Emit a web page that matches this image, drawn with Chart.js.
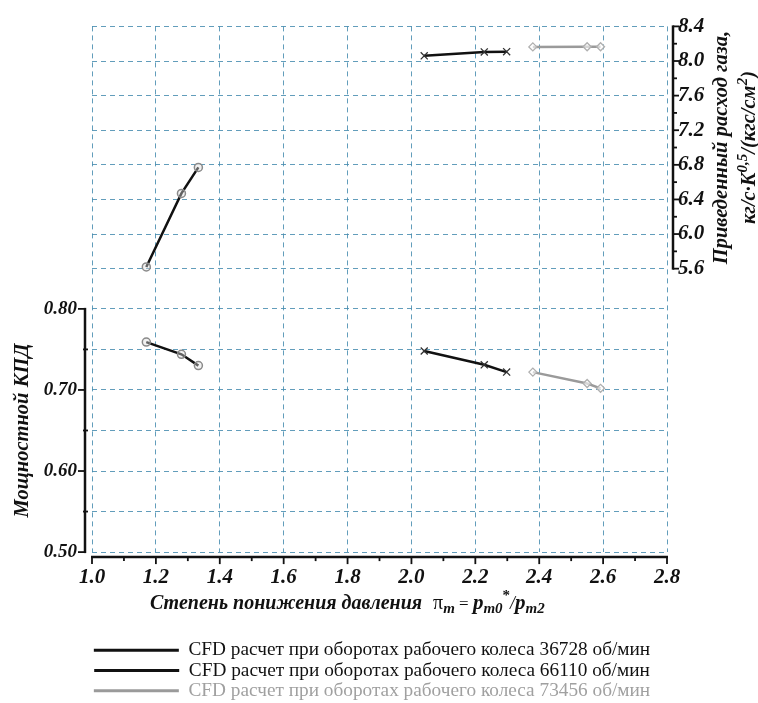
<!DOCTYPE html>
<html>
<head>
<meta charset="utf-8">
<script src="https://cdn.jsdelivr.net/npm/chart.js@4.4.1/dist/chart.umd.min.js"></script>
<style>
  html, body { margin: 0; padding: 0; background: #fff; }
  #wrap { width: 758px; height: 703px; position: relative; }
</style>
</head>
<body>
<div id="wrap"><canvas id="c" width="758" height="703"></canvas></div>
<script>
// ---- data ----
const seriesLabels = [
  'CFD расчет при оборотах рабочего колеса 36728 об/мин',
  'CFD расчет при оборотах рабочего колеса 66110 об/мин',
  'CFD расчет при оборотах рабочего колеса 73456 об/мин'
];
const pressureRatio36728 = [1.17, 1.28, 1.333];
const efficiency36728    = [0.759, 0.744, 0.730];
const flow36728          = [5.62, 6.47, 6.77];

const pressureRatio66110 = [2.04, 2.228, 2.298];
const efficiency66110    = [0.748, 0.731, 0.722];
const flow66110          = [8.06, 8.105, 8.108];

const pressureRatio73456 = [2.38, 2.55, 2.592];
const efficiency73456    = [0.722, 0.708, 0.702];
const flow73456          = [8.163, 8.165, 8.165];

const xTicks          = [1.0, 1.2, 1.4, 1.6, 1.8, 2.0, 2.2, 2.4, 2.6, 2.8];
const xMinorTicks     = [1.1, 1.3, 1.5, 1.7, 1.9, 2.1, 2.3, 2.5, 2.7];
const efficiencyTicks = [0.50, 0.55, 0.60, 0.65, 0.70, 0.75, 0.80];
const efficiencyLabelTicks = [0.50, 0.60, 0.70, 0.80];
const flowTicks       = [5.6, 6.0, 6.4, 6.8, 7.2, 7.6, 8.0, 8.4];
const flowMinorTicks  = [5.8, 6.2, 6.6, 7.0, 7.4, 7.8, 8.2];

const xTitleParts = ['Степень понижения давления', 'π', 'm', ' = ', 'p', 'm0', '*', '/', 'p', 'm2'];
const leftTitle = 'Мощностной КПД';
const rightTitle1 = 'Приведенный расход газа,';
const rightTitle2Parts = ['кг/с·K', '0,5', '/(кгс/см', '2', ')'];

// ---- styling ----
const SERIF = '"Liberation Serif", "Times New Roman", serif';
const gridColor = 'rgba(70,140,175,0.85)';
const c1 = '#111111', c2 = '#111111', c3 = '#9a9a9a';

const pts = (xs, ys) => xs.map((x, i) => ({x: x, y: ys[i]}));

const common = { borderWidth: 2.5, showLine: true, fill: false, tension: 0 };
const datasets = [
  Object.assign({}, common, { label: seriesLabels[0], data: pts(pressureRatio36728, flow36728), yAxisID: 'y2',
    borderColor: c1, pointStyle: 'circle', pointRadius: 4, pointBorderColor: '#8a8a8a', pointBackgroundColor: 'rgba(220,220,220,0.4)', pointBorderWidth: 1.5 }),
  Object.assign({}, common, { label: seriesLabels[0], data: pts(pressureRatio36728, efficiency36728), yAxisID: 'y',
    borderColor: c1, pointStyle: 'circle', pointRadius: 4, pointBorderColor: '#8a8a8a', pointBackgroundColor: 'rgba(220,220,220,0.4)', pointBorderWidth: 1.5 }),
  Object.assign({}, common, { label: seriesLabels[1], data: pts(pressureRatio66110, flow66110), yAxisID: 'y2',
    borderColor: c2, pointStyle: 'crossRot', pointRadius: 5, pointBorderColor: '#333', pointBorderWidth: 1.3 }),
  Object.assign({}, common, { label: seriesLabels[1], data: pts(pressureRatio66110, efficiency66110), yAxisID: 'y',
    borderColor: c2, pointStyle: 'crossRot', pointRadius: 5, pointBorderColor: '#333', pointBorderWidth: 1.3 }),
  Object.assign({}, common, { label: seriesLabels[2], data: pts(pressureRatio73456, flow73456), yAxisID: 'y2',
    borderColor: c3, pointStyle: 'rectRot', pointRadius: 4, pointBorderColor: '#b0b0b0', pointBackgroundColor: 'rgba(255,255,255,0.6)', pointBorderWidth: 1.3 }),
  Object.assign({}, common, { label: seriesLabels[2], data: pts(pressureRatio73456, efficiency73456), yAxisID: 'y',
    borderColor: c3, pointStyle: 'rectRot', pointRadius: 4, pointBorderColor: '#b0b0b0', pointBackgroundColor: 'rgba(255,255,255,0.6)', pointBorderWidth: 1.3 })
];

function font(size, bold, italic) {
  return (italic ? 'italic ' : '') + (bold ? 'bold ' : '') + size + 'px ' + SERIF;
}

// draws a list of {t, f, dy} segments starting at x (left), baseline y
function drawRich(ctx, segs, x, y) {
  let cx = x;
  segs.forEach(s => {
    ctx.font = s.f;
    ctx.fillText(s.t, cx, y + (s.dy || 0));
    cx += ctx.measureText(s.t).width + (s.gap || 0);
  });
  return cx;
}
function richWidth(ctx, segs) {
  let w = 0;
  segs.forEach(s => { ctx.font = s.f; w += ctx.measureText(s.t).width + (s.gap || 0); });
  return w;
}

const axesPlugin = {
  id: 'axesAndTitles',
  afterDraw(chart) {
    const ctx = chart.ctx;
    const ca = chart.chartArea;
    const sx = chart.scales.x, sy = chart.scales.y, sy2 = chart.scales.y2;
    ctx.save();
    ctx.strokeStyle = '#111';
    ctx.fillStyle = '#111';
    ctx.lineCap = 'butt';

    // left axis (efficiency) — offset outward
    const lx = ca.left - 7;
    const yTop = sy.getPixelForValue(efficiencyTicks[efficiencyTicks.length - 1]);
    const yBot = sy.getPixelForValue(efficiencyTicks[0]);
    ctx.lineWidth = 2.5;
    ctx.beginPath(); ctx.moveTo(lx, yTop - 1); ctx.lineTo(lx, yBot + 1); ctx.stroke();
    ctx.lineWidth = 1.8;
    efficiencyLabelTicks.forEach(v => {
      const py = sy.getPixelForValue(v);
      ctx.beginPath(); ctx.moveTo(lx, py); ctx.lineTo(lx - 7, py); ctx.stroke();
    });
    efficiencyTicks.filter(v => !efficiencyLabelTicks.includes(v)).forEach(v => {
      const py = sy.getPixelForValue(v);
      ctx.beginPath(); ctx.moveTo(lx - 2, py); ctx.lineTo(lx + 3, py); ctx.stroke();
    });

    // bottom axis
    const by = ca.bottom + 5;
    ctx.lineWidth = 2.5;
    ctx.beginPath(); ctx.moveTo(sx.getPixelForValue(xTicks[0]) - 1, by); ctx.lineTo(sx.getPixelForValue(xTicks[xTicks.length - 1]) + 1, by); ctx.stroke();
    ctx.lineWidth = 1.8;
    xTicks.forEach(v => {
      const px = sx.getPixelForValue(v);
      ctx.beginPath(); ctx.moveTo(px, by); ctx.lineTo(px, by + 7); ctx.stroke();
    });
    xMinorTicks.forEach(v => {
      const px = sx.getPixelForValue(v);
      ctx.beginPath(); ctx.moveTo(px, by); ctx.lineTo(px, by + 4); ctx.stroke();
    });

    // right axis (flow)
    const rx = ca.right + 6;
    const ry1 = sy2.getPixelForValue(flowTicks[flowTicks.length - 1]);
    const ry2 = sy2.getPixelForValue(flowTicks[0]);
    ctx.lineWidth = 2.5;
    ctx.beginPath(); ctx.moveTo(rx, ry1 - 1); ctx.lineTo(rx, ry2 + 1); ctx.stroke();
    ctx.lineWidth = 1.8;
    flowTicks.forEach(v => {
      const py = sy2.getPixelForValue(v);
      ctx.beginPath(); ctx.moveTo(rx, py); ctx.lineTo(rx + 6, py); ctx.stroke();
    });
    flowMinorTicks.forEach(v => {
      const py = sy2.getPixelForValue(v);
      ctx.beginPath(); ctx.moveTo(rx, py); ctx.lineTo(rx + 4, py); ctx.stroke();
    });

    // x title with subscripts
    ctx.fillStyle = '#111';
    ctx.textBaseline = 'alphabetic';
    ctx.textAlign = 'left';
    const ty = ca.bottom + 57;
    const xSegs = [
      {t: xTitleParts[0], f: font(20, true, true), gap: 11},
      {t: xTitleParts[1], f: font(20, false, false)},
      {t: xTitleParts[2], f: font(15, true, true), dy: 4},
      {t: xTitleParts[3], f: font(17, false, false)},
      {t: xTitleParts[4], f: font(21, true, true)},
      {t: xTitleParts[5], f: font(15, true, true), dy: 4},
      {t: xTitleParts[6], f: font(15, true, false), dy: -9},
      {t: xTitleParts[7], f: font(18, false, true)},
      {t: xTitleParts[8], f: font(21, true, true)},
      {t: xTitleParts[9], f: font(15, true, true), dy: 4}
    ];
    drawRich(ctx, xSegs, 150, ty);

    // left y title
    const midL = (yTop + yBot) / 2;
    ctx.save();
    ctx.translate(28, midL);
    ctx.rotate(-Math.PI / 2);
    ctx.font = font(20.5, true, true);
    ctx.textAlign = 'center';
    ctx.fillText(leftTitle, 0, 0);
    ctx.restore();

    // right y title (two lines)
    const midR = (ry1 + ry2) / 2;
    ctx.save();
    ctx.translate(727, midR);
    ctx.rotate(-Math.PI / 2);
    ctx.font = font(20.5, true, true);
    ctx.textAlign = 'center';
    ctx.fillText(rightTitle1, 0, 0);
    ctx.restore();

    ctx.save();
    ctx.translate(755, midR);
    ctx.rotate(-Math.PI / 2);
    ctx.textAlign = 'left';
    const rSegs = [
      {t: rightTitle2Parts[0], f: font(20.5, true, true)},
      {t: rightTitle2Parts[1], f: font(15, true, true), dy: -8},
      {t: rightTitle2Parts[2], f: font(20.5, true, true)},
      {t: rightTitle2Parts[3], f: font(15, true, true), dy: -8},
      {t: rightTitle2Parts[4], f: font(20.5, true, true)}
    ];
    const rw = richWidth(ctx, rSegs);
    drawRich(ctx, rSegs, -rw / 2, 0);
    ctx.restore();

    ctx.restore();
  }
};

const leftTickFont = { family: SERIF, size: 19, weight: 'bold', style: 'italic' };
const tickFont = { family: SERIF, size: 21, weight: 'bold', style: 'italic' };

new Chart(document.getElementById('c'), {
  type: 'scatter',
  data: { datasets: datasets },
  plugins: [axesPlugin],
  options: {
    responsive: false,
    animation: false,
    layout: { padding: { top: 17, bottom: -7.5, left: 0, right: 14 } },
    plugins: {
      tooltip: { enabled: false },
      legend: {
        display: true,
        position: 'bottom',
        align: 'center',
        labels: {
          boxWidth: 85,
          boxHeight: 3,
          padding: 1,
          font: { family: SERIF, size: 19.3 },
          color: '#111',
          generateLabels: () => [
            { text: seriesLabels[0], fillStyle: c1, strokeStyle: c1, lineWidth: 0, fontColor: '#111', hidden: false, datasetIndex: 0 },
            { text: seriesLabels[1], fillStyle: c2, strokeStyle: c2, lineWidth: 0, fontColor: '#111', hidden: false, datasetIndex: 2 },
            { text: seriesLabels[2], fillStyle: c3, strokeStyle: c3, lineWidth: 0, fontColor: '#a0a0a0', hidden: false, datasetIndex: 4 }
          ]
        }
      }
    },
    scales: {
      x: {
        type: 'linear',
        position: 'bottom',
        min: 1.0, max: 2.8,
        afterBuildTicks: s => { s.ticks = xTicks.map(v => ({value: v})); },
        afterFit: s => { s.height = 87.5; },
        ticks: {
          autoSkip: false, maxRotation: 0, padding: 13,
          font: tickFont, color: '#111',
          callback: v => Number(v).toFixed(1)
        },
        grid: { color: gridColor, lineWidth: 1, drawTicks: false },
        border: { display: false, dash: [5, 4] }
      },
      y: {
        type: 'linear',
        position: 'left',
        min: 0.5, max: 1.1484,
        afterBuildTicks: s => { s.ticks = efficiencyTicks.map(v => ({value: v})); },
        afterFit: s => { s.width = 92; },
        ticks: {
          autoSkip: false, padding: 15,
          font: leftTickFont, color: '#111',
          callback: v => efficiencyLabelTicks.some(t => Math.abs(t - v) < 1e-6) ? Number(v).toFixed(2) : ''
        },
        grid: { color: gridColor, lineWidth: 1, drawTicks: false },
        border: { display: false, dash: [5, 4] }
      },
      y2: {
        type: 'linear',
        position: 'right',
        min: 2.324, max: 8.4,
        afterBuildTicks: s => { s.ticks = flowTicks.map(v => ({value: v})); },
        afterFit: s => { s.width = 77; },
        ticks: {
          autoSkip: false, padding: 11,
          font: tickFont, color: '#111',
          callback: v => Number(v).toFixed(1)
        },
        grid: { color: gridColor, lineWidth: 1, drawTicks: false },
        border: { display: false, dash: [5, 4] }
      }
    }
  }
});
</script>
</body>
</html>
